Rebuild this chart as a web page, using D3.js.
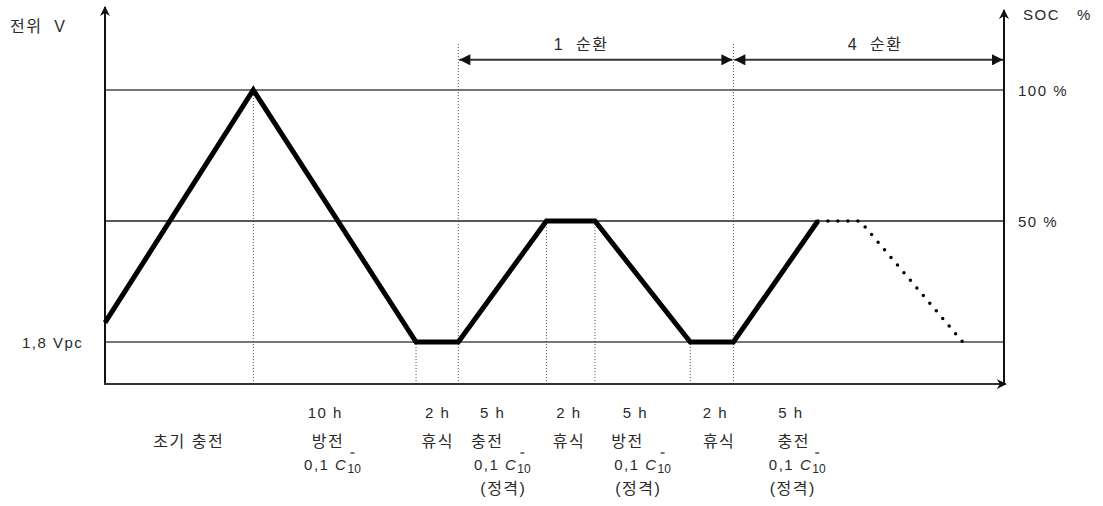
<!DOCTYPE html>
<html>
<head>
<meta charset="utf-8">
<script src="https://cdn.jsdelivr.net/npm/d3@7"></script>
<style>
  body { margin: 0; background: #fff; }
  text { font-family: "Liberation Sans", "Noto Sans CJK KR", sans-serif; fill: #2a2a2a; letter-spacing: 1.5px; }
</style>
</head>
<body>
<svg id="chart" width="1103" height="506"></svg>
<script>
// schematic time axis (0..100) and state of charge (%)
var solidT   = [0, 16.5, 34.6, 39.3, 49.1, 54.5, 65.1, 69.9, 79.3];
var solidSoc = [8, 100, 0, 0, 50, 50, 0, 0, 50];
var dottedT   = [79.3, 84.0, 95.4];
var dottedSoc = [50, 50, 0];

// vertical guides: where they stand and how high they reach
var guideT   = [16.5, 34.6, 39.3, 49.1, 54.5, 65.1, 69.9];
var guideTop = [100, 0, 118, 50, 50, 0, 118];

var levels = [0, 50, 100];
var levelLabelsRight = ['', '50 %', '100 %'];
var levelLabelLeft = '1,8 Vpc';

var cycleLabels = ['1  순환', '4  순환'];
var cycleStart  = [39.3, 69.9];
var cycleEnd    = [69.9, 100];

var hourLabels = ['10 h', '2 h', '5 h', '2 h', '5 h', '2 h', '5 h'];
var hourT      = [24.4, 36.9, 43.0, 51.5, 58.9, 67.8, 76.2];
var modeLabels = ['초기 충전', '방전', '휴식', '충전', '휴식', '방전', '휴식', '충전'];
var modeT      = [9.2, 24.7, 36.9, 42.4, 51.5, 58.0, 68.2, 76.5];
var rateT      = [25.3, 44.2, 59.8, 77.0];
var ratedT     = [44.2, 59.2, 76.4];

(function () {
    var svg = d3.select('#chart');

    var x = d3.scaleLinear().domain([0, 100]).range([105, 1004]);
    // piecewise: 1.8 Vpc -> 50 % -> 100 %
    var y = d3.scaleLinear().domain([0, 50, 100]).range([342, 221, 90]);

    var yBottom = y(-17.4);
    var fs = '15px';
    var fsKo = '16px';

    var defs = svg.append('defs');
    defs.append('marker')
        .attr('id', 'head')
        .attr('viewBox', '0 0 10 10')
        .attr('refX', 10).attr('refY', 5)
        .attr('markerWidth', 6).attr('markerHeight', 5.5)
        .attr('orient', 'auto-start-reverse')
        .attr('markerUnits', 'strokeWidth')
        .append('path')
        .attr('d', 'M0,0 L10,5 L0,10 Z')
        .attr('fill', '#111');
    defs.append('marker')
        .attr('id', 'axhead')
        .attr('viewBox', '0 0 10 10')
        .attr('refX', 9).attr('refY', 5)
        .attr('markerWidth', 5).attr('markerHeight', 5)
        .attr('orient', 'auto')
        .attr('markerUnits', 'strokeWidth')
        .append('path')
        .attr('d', 'M0,0 L10,5 L0,10 L3,5 Z')
        .attr('fill', '#111');

    // reference levels
    svg.append('g').selectAll('line')
        .data(levels).enter()
        .append('line')
        .attr('x1', x(0)).attr('x2', x(100))
        .attr('y1', function (d) { return y(d); })
        .attr('y2', function (d) { return y(d); })
        .attr('stroke', function (d, i) { return i === 1 ? '#222' : '#777'; })
        .attr('stroke-width', function (d, i) { return i === 1 ? 1.3 : 2; });

    // vertical dotted guides
    svg.append('g').selectAll('line')
        .data(guideT).enter()
        .append('line')
        .attr('x1', function (d) { return x(d); })
        .attr('x2', function (d) { return x(d); })
        .attr('y1', yBottom)
        .attr('y2', function (d, i) { return y(guideTop[i]); })
        .attr('stroke', '#444')
        .attr('stroke-width', 1)
        .attr('stroke-dasharray', '1,2');

    // axes
    svg.append('line')
        .attr('x1', x(0)).attr('x2', x(0))
        .attr('y1', yBottom + 1).attr('y2', y(131.7))
        .attr('stroke', '#111').attr('stroke-width', 2)
        .attr('marker-end', 'url(#axhead)');
    svg.append('line')
        .attr('x1', x(100)).attr('x2', x(100))
        .attr('y1', yBottom + 1).attr('y2', y(130.5))
        .attr('stroke', '#111').attr('stroke-width', 2)
        .attr('marker-end', 'url(#axhead)');
    svg.append('line')
        .attr('x1', x(0) - 1).attr('x2', x(100.2))
        .attr('y1', yBottom).attr('y2', yBottom)
        .attr('stroke', '#333').attr('stroke-width', 2)
        .attr('marker-end', 'url(#axhead)');

    // curve
    var line = d3.line()
        .x(function (d) { return x(d[0]); })
        .y(function (d) { return y(d[1]); });

    svg.append('path')
        .datum(d3.zip(solidT, solidSoc))
        .attr('d', line)
        .attr('fill', 'none')
        .attr('stroke', '#000')
        .attr('stroke-width', 5)
        .attr('stroke-linejoin', 'miter');

    svg.append('path')
        .datum(d3.zip(dottedT, dottedSoc))
        .attr('d', line)
        .attr('fill', 'none')
        .attr('stroke', '#000')
        .attr('stroke-width', 3.5)
        .attr('stroke-linecap', 'round')
        .attr('stroke-dasharray', '0,10');

    // cycle arrows
    var yArrow = y(111.5);
    var cyc = svg.append('g').selectAll('g')
        .data(cycleLabels).enter().append('g');
    cyc.append('line')
        .attr('x1', function (d, i) { return x(cycleStart[i]) + 1; })
        .attr('x2', function (d, i) { return x(cycleEnd[i]) - 1; })
        .attr('y1', yArrow).attr('y2', yArrow)
        .attr('stroke', '#333').attr('stroke-width', 2)
        .attr('marker-start', 'url(#head)')
        .attr('marker-end', 'url(#head)');
    cyc.append('text')
        .attr('x', function (d, i) { return i === 0 ? 581 : 875; })
        .attr('y', 50)
        .attr('text-anchor', 'middle')
        .style('font-size', fsKo)
        .style('white-space', 'pre')
        .text(function (d) { return d; });

    // axis titles and level labels
    svg.append('text').attr('x', 10).attr('y', 32)
        .style('font-size', fsKo).style('white-space', 'pre')
        .text('전위  V');
    svg.append('text').attr('x', 1023).attr('y', 20)
        .style('font-size', fs).style('white-space', 'pre')
        .text('SOC   %');
    svg.append('g').selectAll('text')
        .data(levels).enter()
        .append('text')
        .attr('x', 1018)
        .attr('y', function (d) { return y(d) + 6; })
        .style('font-size', fs)
        .text(function (d, i) { return levelLabelsRight[i]; });
    svg.append('text').attr('x', 22).attr('y', y(0) + 6)
        .style('font-size', fs)
        .text(levelLabelLeft);

    // phase labels
    function row(labels, ts, yy, size) {
        svg.append('g').selectAll('text')
            .data(labels).enter()
            .append('text')
            .attr('x', function (d, i) { return x(ts[i]) + 1; })
            .attr('y', yy)
            .attr('text-anchor', 'middle')
            .style('font-size', size)
            .text(function (d) { return d; });
    }
    row(hourLabels, hourT, 418, fs);
    row(modeLabels, modeT, 447, fsKo);
    row(ratedT.map(function () { return '(정격)'; }), ratedT, 494, fsKo);

    var rates = svg.append('g').selectAll('g')
        .data(rateT).enter().append('g');
    rates.each(function (d) {
        var g = d3.select(this);
        var t = g.append('text')
            .attr('x', x(d)).attr('y', 470)
            .attr('text-anchor', 'middle')
            .style('font-size', fs);
        t.append('tspan').text('0,1 ');
        t.append('tspan').style('font-style', 'italic').text('C');
        var sub = t.append('tspan').attr('dy', 3).style('font-size', '12px').style('letter-spacing', '0px').text('10');
        var b = sub.node().getBBox();
        g.append('line')
            .attr('x1', b.x + 3).attr('x2', b.x + 7)
            .attr('y1', 453).attr('y2', 453)
            .attr('stroke', '#222').attr('stroke-width', 1.2);
    });
})();
</script>
</body>
</html>
